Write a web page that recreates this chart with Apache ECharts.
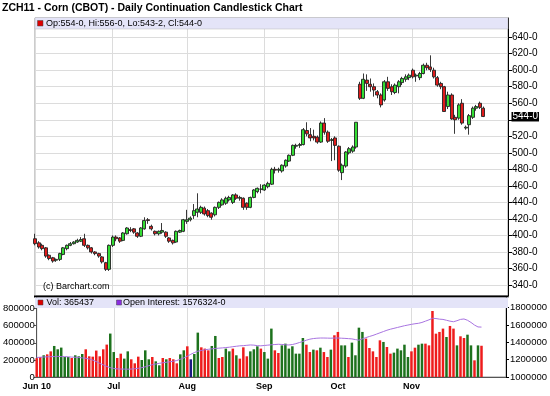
<!DOCTYPE html>
<html><head><meta charset="utf-8">
<script src="https://cdn.jsdelivr.net/npm/echarts@6/dist/echarts.min.js"></script>
<style>html,body{margin:0;padding:0;background:#fff}#c{width:550px;height:396px}</style>
</head><body><div id="c"></div>
<script>
// Trading days (2010) by month
const junDays=[1,2,3,4,7,8,9,10,11,14,15,16,17,18,21,22,23,24,25,28,29,30];
const julDays=[1,2,6,7,8,9,12,13,14,15,16,19,20,21,22,23,26,27,28,29,30];
const augDays=[2,3,4,5,6,9,10,11,12,13,16,17,18,19,20,23,24,25,26,27,30,31];
const sepDays=[1,2,3,7,8,9,10,13,14,15,16,17,20,21,22,23,24,27,28,29,30];
const octDays=[1,4,5,6,7,8,11,12,13,14,15,18,19,20,21,22,25,26,27,28,29];
const novDays=[1,2,3,4,5,8,9,10,11,12,15,16,17,18,19,22,23,24,26,29,30];
const monthTickLabels=['Jun 10','Jul','Aug','Sep','Oct','Nov'];

const opens=[396,391,388,385,376,373,370,371,377,384,388,390,392,393,396,388,385,380,378,374,367,359,
388,398,397,394,402,407,408,403,399,408,419,411,405,402,404,404,397,394,392,404,405,
417,419,424,428,428,433,430,427,425,434,437,439,443,440,449,445,445,439,434,446,453,456,
455,459,462,480,479,478,484,490,497,508,509,510,527,522,520,519,513,536,525,515,518,
508,476,484,500,502,507,583,566,588,583,580,574,570,564,586,580,573,580,585,589,591,
600,593,591,596,606,604,600,591,584,580,556,570,543,542,560,530,534,543,554,560,554];
const closes=[390,386,384,375,372,369,371,378,385,388,390,392,394,395,388,385,380,378,375,368,359,388,
398,396,393,403,409,406,404,399,409,418,418,408,402,405,406,399,393,391,405,406,419,
419,421,430,432,434,426,424,422,434,440,443,445,446,449,445,446,434,434,446,455,457,456,
461,463,480,479,480,485,491,497,509,509,510,528,523,518,518,513,536,525,514,516,509,
479,485,501,505,507,537,566,589,584,580,576,570,558,586,578,574,582,586,590,592,594,
592,594,596,606,603,601,592,582,580,550,570,541,540,558,536,531,545,554,556,555,544];
const lows=[388,384,382,373,370,367,368,369,376,382,387,389,391,392,386,383,378,376,373,366,357,357,
386,393,391,393,401,404,402,397,398,407,414,406,400,400,402,397,391,389,391,403,404,
414,417,420,422,426,424,422,419,423,432,436,437,441,438,443,442,431,431,433,445,451,451,
454,457,461,475,476,476,482,489,496,505,506,509,520,514,515,511,512,522,512,490,491,
477,467,482,498,500,505,564,565,575,574,568,566,555,562,575,570,571,572,582,586,588,
590,586,588,595,600,598,590,580,577,550,553,540,523,540,534,528,522,541,551,553,543.25];
const highs=[402,393,390,386,377,374,372,379,386,389,392,393,396,398,402,389,386,381,379,375,368,389,
400,400,398,404,410,410,409,404,410,422,421,413,406,406,415,405,398,395,406,407,420,
431,423,438,451,436,435,432,428,435,441,445,447,448,450,451,448,446,440,447,456,458,462,
462,465,482,483,482,486,492,498,510,511,512,530,537,530,528,521,538,542,527,518,520,
509,487,502,507,509,537,586,596,595,590,584,576,572,588,592,583,584,588,592,595,596,
602,596,598,608,609,618,603,593,586,581,574,572,546,560,565,533,547,556,558,562,556];

const volumes=[220000,234000,254000,265000,300000,363000,324000,344000,234000,234000,222000,254000,242000,269000,324000,242000,238000,309000,242000,324000,379000,508000,
292000,222000,273000,215000,300000,207000,160000,238000,199000,312000,207000,234000,183000,137000,222000,207000,222000,207000,160000,265000,312000,
359000,207000,269000,519000,347000,332000,312000,363000,480000,222000,234000,332000,300000,332000,254000,215000,347000,242000,300000,324000,359000,332000,
292000,215000,566000,312000,281000,370000,390000,332000,359000,273000,273000,456000,378000,292000,320000,312000,343000,292000,234000,320000,488000,
527000,370000,370000,234000,402000,254000,577000,527000,449000,339000,300000,234000,429000,410000,351000,273000,285000,332000,312000,378000,234000,
300000,343000,378000,390000,390000,370000,772000,507000,527000,566000,468000,597000,566000,370000,476000,456000,495000,370000,195000,370000,365437];
// volume bar colour: r = red, g = green, n = navy
const volColour=['r','r','g','r','r','g','g','g','g','g','r','g','g','g','r','r','r','r','r','r','r','g',
'g','r','r','g','g','r','r','r','g','g','g','r','g','g','r','g','r','r','r','g','g',
'r','n','g','g','r','r','r','g','g','r','r','g','g','r','g','r','r','r','g','g','g','r',
'g','g','g','r','r','g','g','g','g','g','g','g','r','r','g','r','g','r','r','g','r',
'r','g','g','r','g','g','g','g','r','r','r','r','r','g','r','r','g','g','g','g','g',
'r','r','g','g','r','r','r','r','r','r','g','r','r','g','r','r','g','g','r','g','r'];
const openInterest=[1225000,1228000,1231000,1233000,1235000,1236000,1238000,1236000,1235000,1233000,
1230000,1228000,1225000,1221000,1216000,1208000,1195000,1178000,1158000,1140000,
1122000,1108000,1098000,1094000,1092000,1091000,1090000,1092000,1095000,1100000,
1108000,1118000,1130000,1142000,1150000,1158000,1164000,1170000,1176000,1182000,
1190000,1205000,1220000,1240000,1262000,1282000,1298000,1306000,1314000,1320000,
1325000,1329000,1333000,1336000,1340000,1344000,1350000,1355000,1360000,1362000,
1366000,1370000,1368000,1362000,1360000,1364000,1368000,1372000,1375000,1378000,
1376000,1372000,1370000,1375000,1385000,1398000,1410000,1425000,1437000,1444000,
1448000,1450000,1450000,1449000,1448000,1450000,1450000,1448000,1446000,1443000,
1440000,1432000,1425000,1440000,1455000,1468000,1480000,1495000,1510000,1525000,
1540000,1552000,1562000,1572000,1582000,1592000,1600000,1608000,1615000,1620000,
1630000,1645000,1660000,1678000,1675000,1668000,1665000,1655000,1645000,1638000,
1650000,1665000,1670000,1655000,1630000,1600000,1578000,1576324];

const priceTicks=[340,360,380,400,420,440,460,480,500,520,540,560,580,600,620,640];
const volTicks=[0,200000,400000,600000,800000];
const oiTicks=[1000000,1200000,1400000,1600000,1800000];
const emptySlots=7;

// ---- build ----
const allMonths=[junDays,julDays,augDays,sepDays,octDays,novDays];
const cats=[]; const monthStart={};
allMonths.forEach((days,m)=>{days.forEach((d,j)=>{const s='2010-'+String(m+6).padStart(2,'0')+'-'+String(d).padStart(2,'0'); if(j===0) monthStart[cats.length]=monthTickLabels[m]; cats.push(s);});});
for(let k=0;k<emptySlots;k++) cats.push('x'+k);
const n=closes.length;
const lastClose=closes[n-1];
const candleData=opens.map((o,i)=>[o,closes[i],lows[i],highs[i]]);
const fmt=p=>{const f=Math.floor(p);return f+'-'+Math.round((p-f)*8);};
const colMap={r:'#ee1c1c',g:'#1d721d',n:'#1a1a80'};
const volData=volumes.map((v,i)=>({value:v,itemStyle:{color:colMap[volColour[i]]}}));
const isStart=(i)=>monthStart[i]!==undefined;
const priceLabelTicks=priceTicks.filter(t=>Math.abs(t-lastClose)>=8);
const FF='Liberation Sans, Arial, sans-serif';

const gL=35,gW=473;
const chart=echarts.init(document.getElementById('c'),null,{renderer:'canvas'});
const lab={fontFamily:FF,color:'#000'};
chart.setOption({
  animation:false,
  grid:[{left:gL,top:18,width:gW,height:278,show:true,borderColor:'#999',borderWidth:1},
        {left:gL,top:297,width:gW,height:80,show:true,borderColor:'#999',borderWidth:1}],
  xAxis:[
    {type:'category',gridIndex:0,data:cats,boundaryGap:false,axisLine:{show:false},axisTick:{show:false},axisLabel:{show:false},
     splitLine:{show:true,interval:(i)=>isStart(i),lineStyle:{color:'#dcdcdc',width:1}}},
    {type:'category',gridIndex:1,data:cats,boundaryGap:false,axisLine:{show:true,lineStyle:{color:'#555'}},axisTick:{show:false},
     axisLabel:{show:true,interval:(i)=>isStart(i),formatter:(v,i)=>monthStart[i]||'',fontSize:9,fontWeight:'bold',margin:5,...lab},
     splitLine:{show:true,interval:(i)=>isStart(i),lineStyle:{color:'#dcdcdc',width:1}}}
  ],
  yAxis:[
    {type:'value',gridIndex:0,position:'right',min:326.68,max:663.2,splitNumber:17,scale:true,
     axisLine:{show:true,lineStyle:{color:'#000'}},
     axisTick:{show:true,length:4,customValues:priceTicks,lineStyle:{color:'#000'}},
     axisLabel:{show:true,customValues:priceLabelTicks,formatter:v=>v+'-0',fontSize:10,margin:4,...lab},
     splitLine:{show:true,lineStyle:{color:'#dcdcdc'}}},
    {type:'value',gridIndex:1,position:'left',min:0,max:935700,interval:200000,
     axisLine:{show:true,lineStyle:{color:'#555'}},axisTick:{show:true,length:3,customValues:volTicks},
     axisLabel:{show:true,customValues:volTicks,formatter:v=>String(v),fontSize:9.5,margin:2,...lab},
     splitLine:{show:false}},
    {type:'value',gridIndex:1,position:'right',min:1000000,max:1923800,interval:200000,
     axisLine:{show:true,lineStyle:{color:'#000'}},axisTick:{show:true,length:3,customValues:oiTicks},
     axisLabel:{show:true,customValues:oiTicks,formatter:v=>String(v),fontSize:9.5,margin:4,...lab},
     splitLine:{show:false}}
  ],
  series:[
    {type:'candlestick',xAxisIndex:0,yAxisIndex:0,data:candleData,barWidth:3.5,
     itemStyle:{color:'#33dd33',color0:'#e01b1b',borderColor:'#222',borderColor0:'#222',borderWidth:0.9}},
    {type:'bar',xAxisIndex:1,yAxisIndex:1,data:volData,barWidth:2.5},
    {type:'line',xAxisIndex:1,yAxisIndex:2,data:openInterest,symbol:'none',lineStyle:{color:'#a874e0',width:1},itemStyle:{color:'#a874e0'}}
  ]
});
const lastY=chart.convertToPixel({yAxisIndex:0},lastClose);
chart.setOption({
  graphic:[
    {type:'text',left:2,top:3,style:{text:'ZCH11 - Corn (CBOT) - Daily Continuation Candlestick Chart',fontSize:10.5,fontWeight:'bold',fill:'#000',fontFamily:FF}},
    {type:'rect',shape:{x:gL,y:17.5,width:gW,height:11.5},style:{fill:'#e4e4f8',stroke:'#bbb',lineWidth:0.5},z:100},
    {type:'rect',shape:{x:37.5,y:20.5,width:5.5,height:5.5},style:{fill:'#dd0000',stroke:'#444',lineWidth:0.5},z:101},
    {type:'text',x:46,y:19,style:{text:'Op:'+fmt(opens[n-1])+', Hi:'+fmt(highs[n-1])+', Lo:'+fmt(lows[n-1])+', Cl:'+fmt(lastClose),fontSize:9,fill:'#000',fontFamily:FF},z:101},
    {type:'text',x:43,y:282,style:{text:'(c) Barchart.com',fontSize:9,fill:'#000',fontFamily:FF},z:101},
    {type:'rect',shape:{x:34,y:295.5,width:474.5,height:2},style:{fill:'#000'},z:100},
    {type:'rect',shape:{x:gL,y:297.5,width:gW,height:10.5},style:{fill:'#e4e4f8'},z:100},
    {type:'rect',shape:{x:38,y:300,width:5,height:5},style:{fill:'#dd0000',stroke:'#444',lineWidth:0.5},z:101},
    {type:'text',x:46.5,y:298.5,style:{text:'Vol: '+volumes[n-1],fontSize:9,fill:'#000',fontFamily:FF},z:101},
    {type:'rect',shape:{x:116.5,y:300,width:5,height:5},style:{fill:'#8a2be2',stroke:'#444',lineWidth:0.5},z:101},
    {type:'text',x:123,y:298.5,style:{text:'Open Interest: '+openInterest[n-1]+'-0',fontSize:9,fill:'#000',fontFamily:FF},z:101},
    {type:'rect',shape:{x:511.5,y:lastY-4.5,width:27.5,height:9.5},style:{fill:'#000'},z:102},
    {type:'text',x:512.5,y:lastY,style:{text:fmt(lastClose),fontSize:10,fill:'#fff',fontFamily:FF,verticalAlign:'middle'},z:103}
  ]
});
</script></body></html>
